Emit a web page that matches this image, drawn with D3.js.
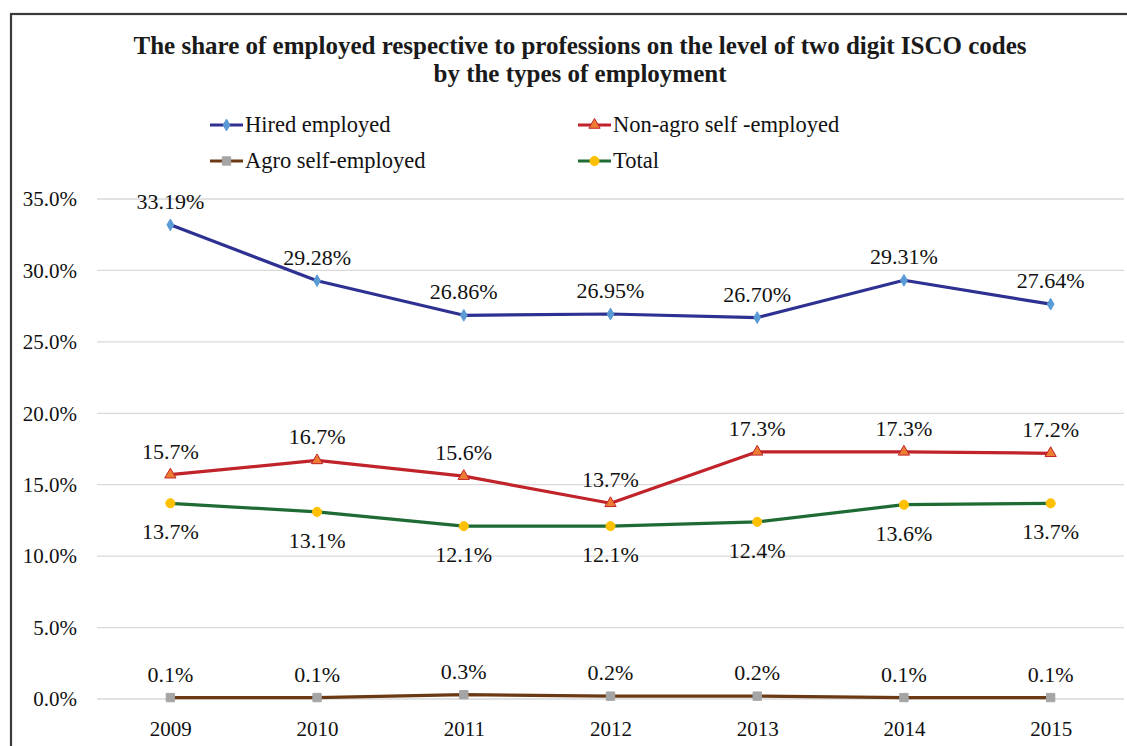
<!DOCTYPE html>
<html>
<head>
<meta charset="utf-8">
<script src="https://cdn.jsdelivr.net/npm/d3@7"></script>
<style>
  html, body { margin: 0; padding: 0; background: #fff; }
  svg { display: block; }
</style>
</head>
<body>
<svg id="chart" width="1127" height="746"></svg>
<script>
// Years on the category axis
const years = ["2009", "2010", "2011", "2012", "2013", "2014", "2015"];

// Share of employed (%) by type of employment
const hired    = [33.19, 29.28, 26.86, 26.95, 26.70, 29.31, 27.64];
const nonAgro  = [15.7, 16.7, 15.6, 13.7, 17.3, 17.3, 17.2];
const agro     = [0.1, 0.1, 0.3, 0.2, 0.2, 0.1, 0.1];
const total    = [13.7, 13.1, 12.1, 12.1, 12.4, 13.6, 13.7];

// Value axis ticks
const yTicks = [0, 5, 10, 15, 20, 25, 30, 35];

const FONT = '"Liberation Serif", "Times New Roman", serif';

const series = [
  { name: "Hired employed", values: hired, digits: 2, line: "#2E3192", fill: "#5B9BD5", stroke: "#5B9BD5", shape: "diamond", pos: "above" },
  { name: "Non-agro self -employed", values: nonAgro, digits: 1, line: "#C1232B", fill: "#ED7D31", stroke: "#C1232B", shape: "triangle", pos: "above" },
  { name: "Agro self-employed", values: agro, digits: 1, line: "#6B3A14", fill: "#A5A5A5", stroke: "#A5A5A5", shape: "square", pos: "above" },
  { name: "Total", values: total, digits: 1, line: "#1E6B34", fill: "#FFC000", stroke: "#FFC000", shape: "circle", pos: "below" }
];

const svg = d3.select("#chart");
const W = 1127, H = 746;
const plot = { left: 97, right: 1124, top: 199, bottom: 699 };

// Outer frame (runs off the right and bottom edges)
svg.append("rect")
  .attr("x", 11).attr("y", 14)
  .attr("width", W + 20).attr("height", H + 20)
  .attr("fill", "none").attr("stroke", "#3a3a3a").attr("stroke-width", 2.2);

// Title
const title = svg.append("text")
  .attr("text-anchor", "middle")
  .style("font-family", FONT).attr("fill", "#1a1a1a")
  .style("font-weight", "bold").style("font-size", "25px");
title.append("tspan").attr("x", 580).attr("y", 54)
  .text("The share of employed respective to professions on the level of two digit ISCO codes");
title.append("tspan").attr("x", 580).attr("y", 82)
  .text("by the types of employment");

const x = d3.scalePoint().domain(years).range([plot.left, plot.right]).padding(0.5);
const y = d3.scaleLinear().domain([0, 35]).range([plot.bottom, plot.top]);

// Gridlines
svg.append("g").selectAll("line").data(yTicks).join("line")
  .attr("x1", plot.left).attr("x2", plot.right)
  .attr("y1", d => y(d)).attr("y2", d => y(d))
  .attr("stroke", "#d9d9d9").attr("stroke-width", 1.3);

// Y axis labels
const yAxis = d3.axisLeft(y).tickValues(yTicks).tickSize(0).tickPadding(0)
  .tickFormat(d => d3.format(".1f")(d) + "%");
const gy = svg.append("g").attr("transform", "translate(77,0)").call(yAxis);
gy.attr("font-family", null).attr("font-size", null);
gy.select(".domain").remove();
gy.selectAll("text").style("font-size", "21px").attr("fill", "#111")
  .style("font-family", FONT);

// X axis labels
const xAxis = d3.axisBottom(x).tickSize(0).tickPadding(0);
const gx = svg.append("g").attr("transform", "translate(0,721)").call(xAxis);
gx.attr("font-family", null).attr("font-size", null);
gx.select(".domain").remove();
gx.selectAll("text").style("font-size", "21px").attr("fill", "#111")
  .style("font-family", FONT);

const symbolFor = {
  diamond: d3.symbol().type(d3.symbolDiamond).size(40),
  triangle: d3.symbol().type(d3.symbolTriangle).size(55),
  square: d3.symbol().type(d3.symbolSquare).size(70),
  circle: d3.symbol().type(d3.symbolCircle).size(65)
};

const line = d3.line().x((d, i) => x(years[i])).y(d => y(d));

series.forEach(s => {
  svg.append("path").datum(s.values)
    .attr("d", line).attr("fill", "none")
    .attr("stroke", s.line).attr("stroke-width", 3.2)
    .attr("stroke-linejoin", "round");

  svg.append("g").selectAll("path").data(s.values).join("path")
    .attr("d", symbolFor[s.shape])
    .attr("transform", (d, i) => `translate(${x(years[i])},${y(d)})`)
    .attr("fill", s.fill).attr("stroke", s.stroke).attr("stroke-width", 1);

  svg.append("g").selectAll("text").data(s.values).join("text")
    .attr("x", (d, i) => x(years[i]))
    .attr("y", d => y(d) + (s.pos === "above" ? -16 : 36))
    .attr("text-anchor", "middle")
    .style("font-family", FONT).attr("fill", "#111")
    .style("font-size", "22px")
    .text(d => d.toFixed(s.digits) + "%");
});

// Legend
const legendItems = [
  { s: series[0], lx: 210, ly: 125 },
  { s: series[1], lx: 578, ly: 125 },
  { s: series[2], lx: 210, ly: 161 },
  { s: series[3], lx: 578, ly: 161 }
];
const lg = svg.append("g");
legendItems.forEach(({ s, lx, ly }) => {
  lg.append("line").attr("x1", lx).attr("x2", lx + 33).attr("y1", ly).attr("y2", ly)
    .attr("stroke", s.line).attr("stroke-width", 3.2);
  lg.append("path").attr("d", symbolFor[s.shape])
    .attr("transform", `translate(${lx + 16.5},${ly})`)
    .attr("fill", s.fill).attr("stroke", s.stroke).attr("stroke-width", 1);
  lg.append("text").attr("x", lx + 35).attr("y", ly + 7)
    .style("font-family", FONT).attr("fill", "#111")
    .style("font-size", "22.5px").text(s.name);
});
</script>
</body>
</html>
